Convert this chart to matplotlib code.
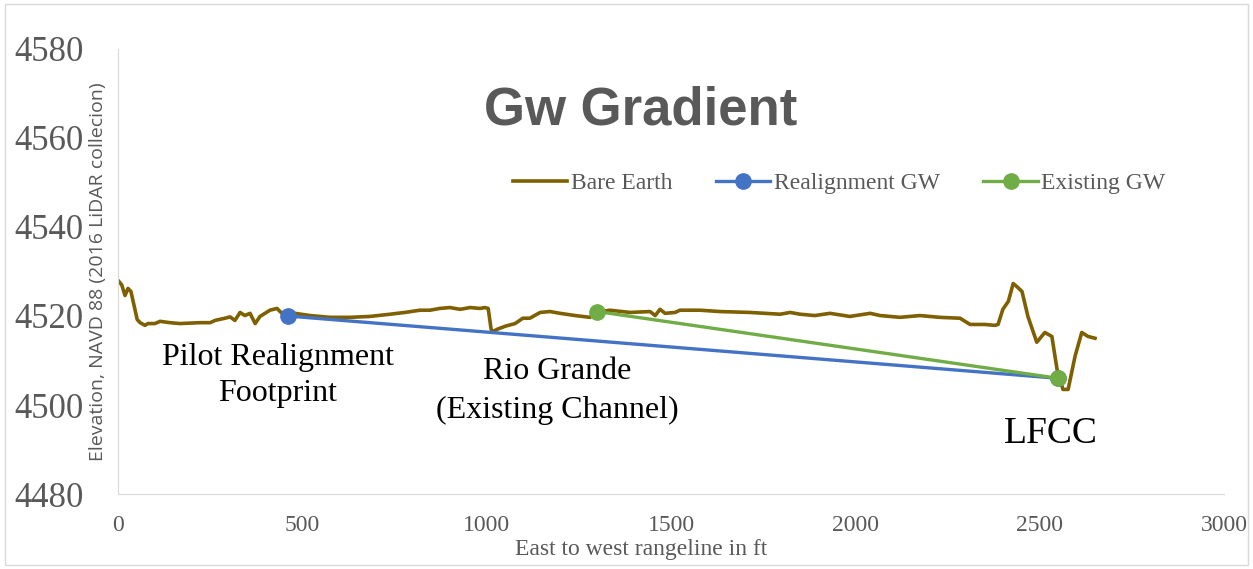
import matplotlib.pyplot as plt
from matplotlib.patches import Rectangle

# Bare earth profile (ft, elevation)
bare_x = [0, 10, 19, 27, 35, 52, 60, 73, 81, 100, 114, 141, 168, 222, 250, 263, 290,
          304, 317, 331, 344, 358, 372, 385, 412, 431, 442, 456, 480, 521, 575, 629,
          683, 738, 778, 819, 846, 873, 900, 928, 955, 982, 995, 1004, 1012, 1017,
          1028, 1050, 1077, 1098, 1117, 1145, 1172, 1199, 1240, 1280, 1294, 1334,
          1389, 1443, 1457, 1470, 1484, 1511, 1524, 1579, 1633, 1714, 1796, 1823,
          1850, 1890, 1931, 1985, 2040, 2067, 2121, 2175, 2229, 2284, 2311, 2351,
          2378, 2387, 2400, 2415, 2428, 2438, 2452, 2468, 2492, 2514, 2533, 2547,
          2563, 2577, 2596, 2614, 2631, 2650]
bare_y = [4528.0, 4527.0, 4524.6, 4526.2, 4525.5, 4519.2, 4518.5, 4517.9, 4518.3,
          4518.3, 4518.8, 4518.5, 4518.3, 4518.5, 4518.5, 4519.0, 4519.5, 4519.8,
          4519.0, 4520.8, 4520.1, 4520.6, 4518.3, 4519.9, 4521.3, 4521.7, 4520.8,
          4520.1, 4520.6, 4520.1, 4519.7, 4519.7, 4519.9, 4520.4, 4520.8, 4521.3,
          4521.3, 4521.7, 4521.9, 4521.5, 4521.9, 4521.7, 4521.9, 4521.7, 4517.0,
          4516.5, 4517.0, 4517.7, 4518.3, 4519.5, 4519.5, 4520.8, 4521.0, 4520.6,
          4520.1, 4519.7, 4520.8, 4521.3, 4520.8, 4521.0, 4520.1, 4521.5, 4520.6,
          4520.8, 4521.3, 4521.3, 4521.0, 4520.8, 4520.4, 4520.8, 4520.4, 4520.1,
          4520.6, 4519.9, 4520.6, 4520.1, 4519.7, 4520.1, 4519.7, 4519.5, 4518.1,
          4518.1, 4517.9, 4518.1, 4521.5, 4523.3, 4527.3, 4526.6, 4525.5, 4519.9,
          4514.1, 4516.3, 4515.4, 4508.0, 4503.5, 4503.5, 4511.0, 4516.3, 4515.4,
          4515.0]

realign_x = [460, 2550]
realign_y = [4520, 4506]
existing_x = [1300, 2550]
existing_y = [4521, 4506]

fig = plt.figure(figsize=(12.53, 5.69), dpi=100)
fig.patches.append(Rectangle((0.004, 0.007), 0.992, 0.986, transform=fig.transFigure,
                             fill=False, edgecolor="#d9d9d9", linewidth=1))
ax = fig.add_axes([0.0942, 0.1318, 0.8827, 0.7821])

ax.plot(bare_x, bare_y, color="#7f6000", linewidth=2.6, label="Bare Earth")
ax.plot(realign_x, realign_y, color="#4472c4", linewidth=2.4, marker="o",
        markersize=11, label="Realignment GW")
ax.plot(existing_x, existing_y, color="#70ad47", linewidth=2.4, marker="o",
        markersize=11, label="Existing GW")

ax.set_xlim(0, 3000)
ax.set_ylim(4480, 4580)
ax.set_xticks(range(0, 3001, 500))
ax.set_yticks(range(4480, 4581, 20))
ax.tick_params(length=0, colors="#595959")
for lab in ax.get_yticklabels():
    lab.set_family("Liberation Serif")
    lab.set_fontsize(25)
for lab in ax.get_xticklabels():
    lab.set_family("Liberation Serif")
    lab.set_fontsize(17)
ax.tick_params(axis="x", pad=15)
ax.tick_params(axis="y", pad=25)

for s in ["top", "right"]:
    ax.spines[s].set_visible(False)
ax.spines["left"].set_color("#d9d9d9")
ax.spines["bottom"].set_color("#d9d9d9")

ax.set_ylabel("Elevation, NAVD 88 (2016 LiDAR collecion)", fontsize=14,
              color="#595959", family="Open Sans")
ax.yaxis.set_label_coords(-0.010, 0.5)
ax.set_xlabel("East to west rangeline in ft", fontsize=17, color="#595959",
              family="Liberation Serif")
ax.xaxis.set_label_coords(0.473, -0.100)

fig.text(0.511, 0.806, "Gw Gradient", fontsize=38, fontweight="bold",
         color="#595959", family="Liberation Sans", ha="center", va="center")

leg = ax.legend(loc="center left", bbox_to_anchor=(0.357, 0.698), ncol=3,
                frameon=False, borderpad=0, borderaxespad=0,
                prop={"family": "Liberation Serif", "size": 17}, handlelength=2.3,
                handletextpad=0.15, columnspacing=1.85)
for t in leg.get_texts():
    t.set_color("#595959")

ax.text(434, 4506.6, "Pilot Realignment\nFootprint", family="Liberation Serif",
        fontsize=23, ha="center", va="center", linespacing=1.3)
ax.text(1191, 4503.2, "Rio Grande\n(Existing Channel)", family="Liberation Serif",
        fontsize=23, ha="center", va="center", linespacing=1.45)
ax.text(2531, 4493.6, "LFCC", family="Liberation Serif", fontsize=27,
        ha="center", va="center")

fig.savefig("out.png", dpi=100)
